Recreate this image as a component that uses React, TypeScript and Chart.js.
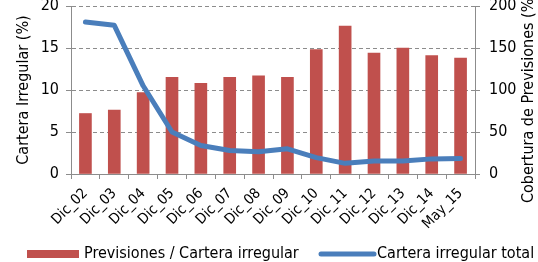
import React, { useEffect, useRef } from "react";
import { Chart, registerables } from "chart.js";

Chart.register(...registerables);

const categories = ["Dic_02", "Dic_03", "Dic_04", "Dic_05", "Dic_06", "Dic_07", "Dic_08", "Dic_09", "Dic_10", "Dic_11", "Dic_12", "Dic_13", "Dic_14", "May_15"];
const coberturaPrevisiones = [72, 76, 97, 115, 108, 115, 117, 115, 148, 176, 144, 150, 141, 138];
const carteraIrregularTotal = [18.1, 17.7, 10.5, 5.0, 3.4, 2.8, 2.65, 3.0, 1.95, 1.27, 1.55, 1.55, 1.8, 1.85];
const leftTicks = [0, 5, 10, 15, 20];
const rightTicks = [0, 50, 100, 150, 200];
const barLabel = "Previsiones / Cartera irregular";
const lineLabel = "Cartera irregular total";
const leftTitle = "Cartera Irregular (%)";
const rightTitle = "Cobertura de Previsiones (%)";

const FONT = "Tahoma, 'DejaVu Sans Condensed', 'DejaVu Sans', sans-serif";
const RED = "#C0504D";
const BLUE = "#4A7EBB";
const GRID = "#8C8C8C";
const TEXT = "#000000";

export default function App() {
  const ref = useRef<HTMLCanvasElement | null>(null);
  useEffect(() => {
    document.body.style.margin = "0";
    const canvas = ref.current;
    if (!canvas) return;
    const overlay = {
      id: "overlay",
      afterDraw(chart: any) {
        const ctx = chart.ctx;
        ctx.save();
        ctx.fillStyle = TEXT;
        ctx.font = `16px ${FONT}`;
        ctx.textBaseline = "middle";
        const ca = chart.chartArea;
        ctx.save();
        ctx.translate(24, (ca.top + ca.bottom) / 2);
        ctx.rotate(-Math.PI / 2);
        ctx.textAlign = "center";
        ctx.fillText(leftTitle, 0, 0);
        ctx.restore();
        ctx.save();
        ctx.translate(529, 203);
        ctx.rotate(-Math.PI / 2);
        ctx.textAlign = "left";
        ctx.fillText(rightTitle, 0, 0);
        ctx.restore();
        // legend
        ctx.fillStyle = RED;
        ctx.fillRect(27, 250, 52, 8);
        ctx.fillStyle = TEXT;
        ctx.textAlign = "left";
        ctx.fillText(barLabel, 84, 254);
        ctx.strokeStyle = BLUE;
        ctx.lineWidth = 5;
        ctx.lineCap = "round";
        ctx.beginPath();
        ctx.moveTo(321, 254);
        ctx.lineTo(374, 254);
        ctx.stroke();
        ctx.fillText(lineLabel, 377, 254);
        ctx.restore();
      },
    };
    const chart = new Chart(canvas, {
      type: "bar",
      data: {
        labels: categories,
        datasets: [
          {
            type: "line",
            label: lineLabel,
            data: carteraIrregularTotal,
            yAxisID: "y",
            borderColor: BLUE,
            backgroundColor: BLUE,
            borderWidth: 5,
            pointRadius: 0,
            tension: 0,
            borderJoinStyle: "round",
            borderCapStyle: "round",
            order: 1,
          } as any,
          {
            type: "bar",
            label: barLabel,
            data: coberturaPrevisiones,
            yAxisID: "y1",
            backgroundColor: RED,
            barThickness: 12,
            order: 2,
          },
        ],
      },
      options: {
        responsive: false,
        animation: false,
        layout: { padding: { top: 6, left: 0, right: 0, bottom: 0 } },
        plugins: { legend: { display: false }, tooltip: { enabled: false }, title: { display: false } },
        scales: {
          x: {
            grid: { display: true, drawOnChartArea: false, drawTicks: true, tickLength: 5, color: GRID, offset: true },
            border: { display: true, color: GRID, width: 1 },
            ticks: { color: TEXT, font: { family: FONT, size: 14.5 }, minRotation: 45, maxRotation: 45, padding: 6 },
            afterFit: (s: any) => { s.height = 88; s.paddingLeft = 0; s.paddingRight = 0; },
          },
          y: {
            position: "left",
            min: 0,
            max: 20,
            afterBuildTicks: (s: any) => { s.ticks = leftTicks.map((v) => ({ value: v })); },
            grid: { color: GRID, tickBorderDash: [], tickLength: 5, drawTicks: true, tickColor: GRID },
            border: { display: true, color: GRID, width: 1, dash: [4, 3] },
            ticks: { color: TEXT, font: { family: FONT, size: 16 }, padding: 7 },
            afterFit: (s: any) => { s.width = 71; s.paddingTop = 0; s.paddingBottom = 0; },
          },
          y1: {
            position: "right",
            min: 0,
            max: 200,
            afterBuildTicks: (s: any) => { s.ticks = rightTicks.map((v) => ({ value: v })); },
            grid: { drawOnChartArea: false, drawTicks: true, tickLength: 5, color: GRID },
            border: { display: true, color: GRID, width: 1 },
            ticks: { color: TEXT, font: { family: FONT, size: 16 }, padding: 9 },
            afterFit: (s: any) => { s.width = 63; s.paddingTop = 0; s.paddingBottom = 0; },
          },
        },
      } as any,
      plugins: [overlay],
    });
    return () => chart.destroy();
  }, []);
  return (
    <div style={{ width: 538, height: 262 }}>
      <canvas ref={ref} width={538} height={262} style={{ display: "block" }} />
    </div>
  );
}
